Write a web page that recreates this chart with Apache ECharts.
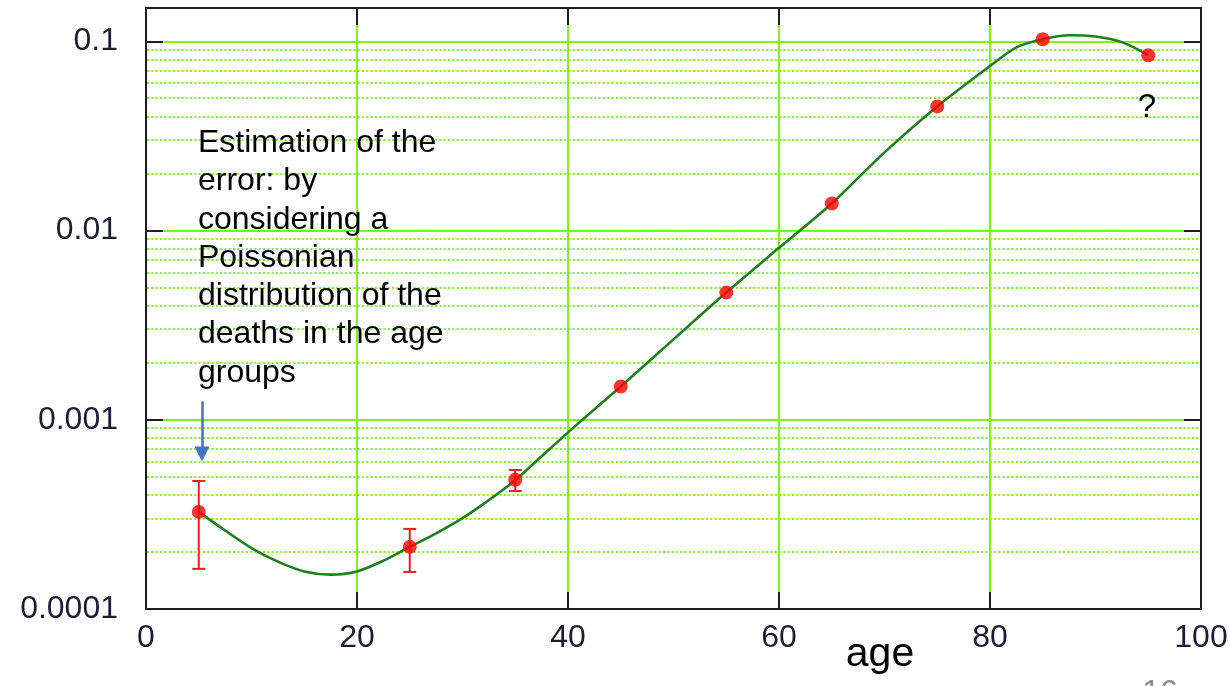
<!DOCTYPE html>
<html>
<head>
<meta charset="utf-8">
<script src="https://cdn.jsdelivr.net/npm/echarts@6/dist/echarts.min.js"></script>
<style>
  html, body { margin: 0; padding: 0; background: #ffffff; }
  #chart { width: 1229px; height: 686px; }
</style>
</head>
<body>
<div id="chart"></div>
<script>
// Mortality rate per age group (band centres)
const ageGroups = [5, 25, 35, 45, 55, 65, 75, 85, 95];
const deathRate = [3.26e-4, 2.13e-4, 4.82e-4, 1.50e-3, 4.7e-3, 1.39e-2, 4.53e-2, 1.026e-1, 8.43e-2];

// Poissonian error bars for the low-count groups
const errAges = [5, 25, 35];
const errLow  = [1.63e-4, 1.57e-4, 4.2e-4];
const errHigh = [4.75e-4, 2.65e-4, 5.43e-4];

// Fitted curve
const fitAge  = [5, 7.5, 10, 12.5, 15, 17.5, 20, 22.5, 25, 27.5, 30, 32.5, 35, 38, 41, 45, 50, 55, 60, 65, 70, 75, 80, 82.5, 85, 87.5, 90, 92.5, 95];
const fitRate = [3.26e-4, 2.6e-4, 2.1e-4, 1.78e-4, 1.58e-4, 1.52e-4, 1.58e-4, 1.8e-4, 2.13e-4, 2.51e-4,
                 3.02e-4, 3.76e-4, 4.79e-4, 6.8e-4, 9.6e-4, 1.5e-3, 2.66e-3, 4.7e-3, 8.1e-3, 1.39e-2,
                 2.59e-2, 4.53e-2, 7.4e-2, 9.3e-2, 1.026e-1, 1.076e-1, 1.06e-1, 9.9e-2, 8.46e-2];

// Axis ranges and tick labels
const xMin = 0, xMax = 100, xStep = 20;
const yMin = 1e-4, yMax = 0.15;
const yDecades = [1e-4, 1e-3, 1e-2, 1e-1];
const yTickLabels = ['0.0001', '0.001', '0.01', '0.1'];

// Arrow pointing at the first error bar
const arrowAge = 5.3, arrowFrom = 1.25e-3, arrowTo = 6.6e-4;

const annotation = 'Estimation of the\nerror: by\nconsidering a\nPoissonian\ndistribution of the\ndeaths in the age\ngroups';

const GRID_GREEN = '#7ff220';
const FRAME = '#1e1e1e';
const LABEL = '#1c1c34';
const FONT = '"Liberation Sans", Arial, sans-serif';

// dotted lines at 2..9 within every decade
const minorValues = [];
yDecades.slice(0, 3).forEach(d => {
  for (let m = 2; m <= 9; m++) minorValues.push(m * d);
});

function yLabel(v) {
  const k = yDecades.findIndex(d => Math.abs(Math.log10(v) - Math.log10(d)) < 1e-6);
  return k >= 0 ? yTickLabels[k] : '';
}

const chart = echarts.init(document.getElementById('chart'), null, { renderer: 'canvas' });

const xBase = { type: 'value', min: xMin, max: xMax, interval: xStep, gridIndex: 0 };
const yBase = { type: 'log', logBase: 10, min: yMin, max: yMax, gridIndex: 0 };
const tickStyle = { show: true, inside: true, length: 17, lineStyle: { color: FRAME, width: 2 } };
const lineStyleFrame = { show: true, onZero: false, lineStyle: { color: FRAME, width: 2 } };

chart.setOption({
  animation: false,
  backgroundColor: '#ffffff',
  grid: { left: 146, right: 28, top: 8, bottom: 77, containLabel: false, outerBoundsMode: 'none' },
  xAxis: [
    // grid lines only
    Object.assign({}, xBase, {
      z: 0,
      axisLine: { show: false }, axisTick: { show: false }, axisLabel: { show: false },
      splitLine: { show: true, showMinLine: false, showMaxLine: false, lineStyle: { color: GRID_GREEN, width: 2 } }
    }),
    // bottom axis with labels
    Object.assign({}, xBase, {
      position: 'bottom', z: 3,
      axisLine: lineStyleFrame, axisTick: tickStyle,
      axisLabel: { show: true, margin: 13, fontSize: 32, fontFamily: FONT, color: LABEL },
      splitLine: { show: false }
    }),
    // top mirror
    Object.assign({}, xBase, {
      position: 'top', z: 3,
      axisLine: lineStyleFrame, axisTick: tickStyle,
      axisLabel: { show: false }, splitLine: { show: false }
    })
  ],
  yAxis: [
    Object.assign({}, yBase, {
      z: 0,
      axisLine: { show: false }, axisTick: { show: false }, axisLabel: { show: false },
      splitLine: { show: true, showMinLine: false, showMaxLine: false, lineStyle: { color: GRID_GREEN, width: 2 } }
    }),
    Object.assign({}, yBase, {
      position: 'left', z: 3,
      axisLine: lineStyleFrame, axisTick: tickStyle,
      axisLabel: { show: true, margin: 28, fontSize: 32, fontFamily: FONT, color: LABEL, formatter: yLabel },
      splitLine: { show: false }
    }),
    Object.assign({}, yBase, {
      position: 'right', z: 3,
      axisLine: lineStyleFrame, axisTick: tickStyle,
      axisLabel: { show: false }, splitLine: { show: false }
    })
  ],
  series: [
    {
      // dotted minor grid across the plot
      name: 'minor grid',
      type: 'custom', xAxisIndex: 0, yAxisIndex: 0, z: 1, silent: true,
      data: minorValues.map(v => [xMin, v, xMax]),
      renderItem: function (params, api) {
        const p1 = api.coord([api.value(0), api.value(1)]);
        const p2 = api.coord([api.value(2), api.value(1)]);
        const y = Math.round(p1[1]);
        return {
          type: 'line',
          shape: { x1: p1[0] + 1, y1: y, x2: p2[0] - 1, y2: y },
          style: { stroke: GRID_GREEN, lineWidth: 2, lineDash: [2, 2.3] }
        };
      }
    },
    {
      name: 'fit',
      type: 'line', xAxisIndex: 0, yAxisIndex: 0, z: 2,
      data: fitAge.map((a, i) => [a, fitRate[i]]),
      smooth: 0.3, showSymbol: false, silent: true,
      lineStyle: { color: '#1c811c', width: 2.6 }
    },
    {
      name: 'error',
      type: 'custom', xAxisIndex: 0, yAxisIndex: 0, z: 4,
      data: errAges.map((a, i) => [a, errLow[i], errHigh[i]]),
      renderItem: function (params, api) {
        const x = api.value(0);
        const pLo = api.coord([x, api.value(1)]);
        const pHi = api.coord([x, api.value(2)]);
        const w = 6.5;
        const st = { stroke: '#ee1c1c', lineWidth: 2 };
        return {
          type: 'group',
          children: [
            { type: 'line', shape: { x1: pLo[0], y1: pLo[1], x2: pHi[0], y2: pHi[1] }, style: st },
            { type: 'line', shape: { x1: pLo[0] - w, y1: pLo[1], x2: pLo[0] + w, y2: pLo[1] }, style: st },
            { type: 'line', shape: { x1: pHi[0] - w, y1: pHi[1], x2: pHi[0] + w, y2: pHi[1] }, style: st }
          ]
        };
      }
    },
    {
      name: 'rate',
      type: 'scatter', xAxisIndex: 0, yAxisIndex: 0, z: 5,
      data: ageGroups.map((a, i) => [a, deathRate[i]]),
      symbol: 'circle', symbolSize: 14,
      itemStyle: { color: '#ff0000' }
    },
    {
      name: 'arrow',
      type: 'line', xAxisIndex: 0, yAxisIndex: 0, z: 6,
      data: [], silent: true,
      markLine: {
        silent: true, symbol: ['none', 'triangle'], symbolSize: [15, 15],
        label: { show: false },
        lineStyle: { color: '#4472c4', width: 2.5, type: 'solid' },
        data: [[{ coord: [arrowAge, arrowFrom] }, { coord: [arrowAge, arrowTo] }]]
      }
    }
  ],
  graphic: [
    {
      type: 'text', left: 198, top: 124, z: 10,
      style: { text: annotation, font: '32px ' + FONT, lineHeight: 38.3, fill: '#000000' }
    },
    {
      type: 'text', x: 1147, y: 108, z: 10,
      style: { text: '?', font: '33px ' + FONT, fill: '#000000', align: 'center', verticalAlign: 'middle' }
    },
    {
      type: 'text', x: 880, y: 655, z: 10,
      style: { text: 'age', font: '41px ' + FONT, fill: '#000000', align: 'center', verticalAlign: 'middle' }
    },
    {
      type: 'text', x: 1160, y: 693, z: 10,
      style: { text: '16', font: '32px ' + FONT, fill: '#8c8c8c', align: 'center', verticalAlign: 'middle' }
    }
  ]
});
</script>
</body>
</html>
